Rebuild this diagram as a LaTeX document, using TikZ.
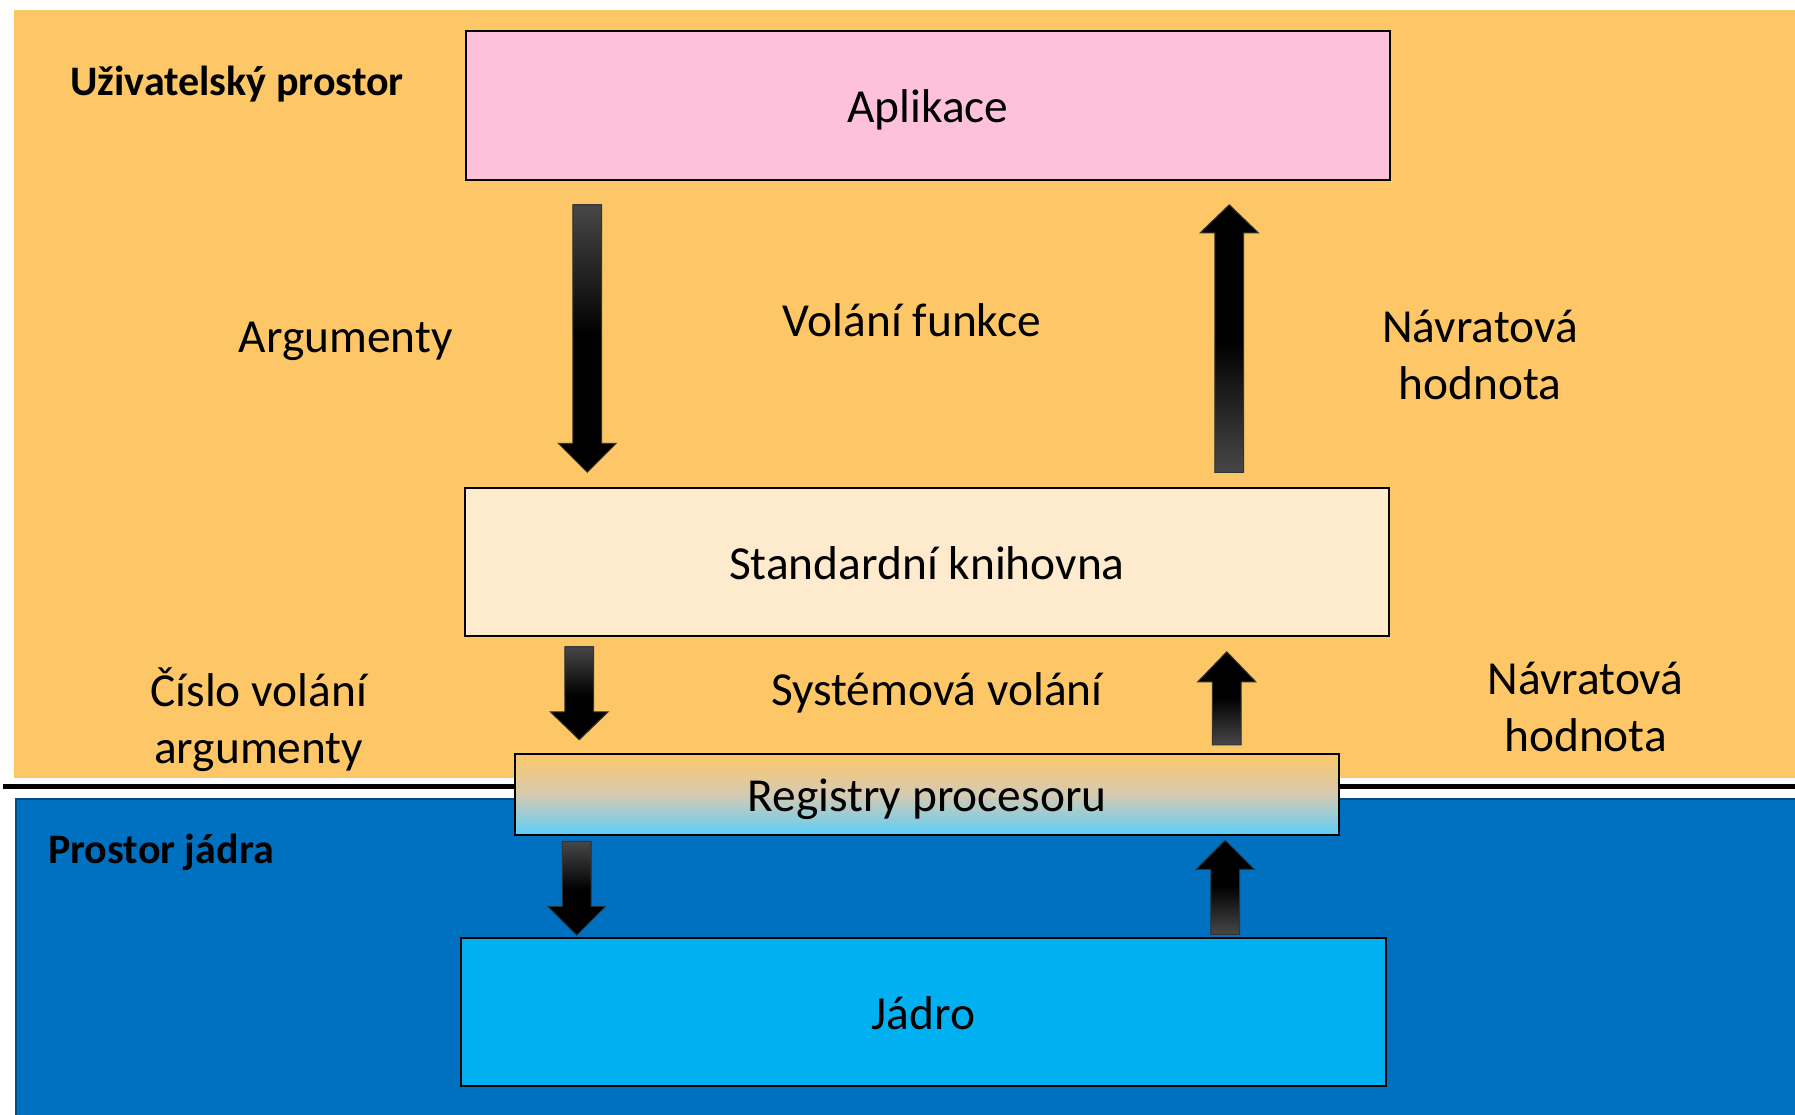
\documentclass[tikz,border=0pt]{standalone}
\usepackage{fontspec}
\setmainfont{Carlito}
\usetikzlibrary{calc}

\definecolor{userbg}{HTML}{FDC767}
\definecolor{kernbg}{HTML}{0070C0}
\definecolor{appfill}{HTML}{FDC1DB}
\definecolor{libfill}{HTML}{FEEBCD}
\definecolor{kerfill}{HTML}{00B0F0}
\definecolor{regtop}{HTML}{FDC767}
\definecolor{regmid}{HTML}{D6CAB2}
\definecolor{regbot}{HTML}{5BCEFA}
\definecolor{tailgray}{HTML}{474747}

\tikzset{
  lbl/.style={font=\fontsize{47.4}{57}\selectfont, inner sep=0pt, align=center},
  ttl/.style={font=\fontsize{42}{50}\selectfont\bfseries, inner sep=0pt},
  blk/.style={draw=black, line width=1.5pt, inner sep=0pt,
              text height=34pt, text depth=0pt,
              font=\fontsize{47.4}{57}\selectfont},
  arrowline/.style={draw=black!80, line width=1pt, line join=miter},
}

% Vertical block arrow: #1 tail, #2 tip, #3 head length,
% #4 shading of the tail part, #5 fraction of the shaft that is shaded
\newcommand\blockarrow[5]{%
  \path let \p1=(#1), \p2=(#2),
            \n1={ifthenelse(\y2>\y1,1,-1)},
            \n2={\y2-\y1-(\n1)*#3} in
    coordinate (ba-tl)  at ({\x1-14.3pt},{\y1})
    coordinate (ba-tr)  at ({\x1+14.3pt},{\y1})
    coordinate (ba-hl)  at ({\x1-14.3pt},{\y1+(\n2)*1pt})
    coordinate (ba-hr)  at ({\x1+14.3pt},{\y1+(\n2)*1pt})
    coordinate (ba-wl)  at ({\x1-29pt},{\y1+(\n2)*1pt})
    coordinate (ba-wr)  at ({\x1+29pt},{\y1+(\n2)*1pt})
    coordinate (ba-tip) at ({\x1},{\y2})
    coordinate (ba-gr)  at ({\x1+14.3pt},{\y1+(\n2)*#5*1pt});
  \fill[black] (ba-tl) -- (ba-hl) -- (ba-wl) -- (ba-tip) -- (ba-wr) -- (ba-hr) -- (ba-tr) -- cycle;
  \shade[#4] (ba-tl) rectangle (ba-gr);
  \draw[arrowline] (ba-tl) -- (ba-hl) -- (ba-wl) -- (ba-tip) -- (ba-wr) -- (ba-hr) -- (ba-tr) -- cycle;
}

\begin{document}
\begin{tikzpicture}[x=1pt,y=-1pt]
\useasboundingbox (0,0) rectangle (1795,1114);
\fill[white] (0,0) rectangle (1795,1114);

% user space and kernel space areas
\fill[userbg] (13.5,10) rectangle (1795,778);
\draw[black, line width=4.5pt] (3,786.5) -- (1795,786.5);
\draw[kernbg!70!black, line width=2pt, fill=kernbg] (16,799) rectangle (1800,1120);

\node[ttl] (user) at (237,84) {Uživatelský prostor};
\node[ttl] (kern) at (161,852) {Prostor jádra};

% layers
\node[blk, fill=appfill, minimum width=924pt, minimum height=149pt] (app) at (928,105.5) {Aplikace};
\node[blk, fill=libfill, minimum width=924pt, minimum height=148pt] (lib) at (927,562) {Standardní knihovna};
\node[blk, line width=2.5pt, top color=regtop, bottom color=regbot, middle color=regmid,
      minimum width=824pt, minimum height=81pt] (reg) at (927,794.5) {Registry procesoru};
\node[blk, fill=kerfill, minimum width=925pt, minimum height=148pt] (ker) at (923.5,1012) {Jádro};

% labels
\node[lbl] (args) at (345.7,341.5) {Argumenty};
\node[lbl] (call) at (912,320) {Volání funkce};
\node[lbl] (ret1) at (1480,355) {Návratová\\hodnota};
\node[lbl] (nums) at (258.7,720) {Číslo volání\\argumenty};
\node[lbl] (sys)  at (937,693) {Systémová volání};
\node[lbl] (ret2) at (1585.6,707) {Návratová\\hodnota};

% arrows between the layers
\blockarrow{$(app.south west)+(122,24)$}{$(lib.north west)+(123,-15)$}{29}{top color=tailgray,bottom color=black}{0.55}
\blockarrow{$(lib.north west)+(765,-15)$}{$(app.south west)+(764,24)$}{28}{top color=black,bottom color=tailgray}{0.55}
\blockarrow{$(lib.south west)+(115,10)$}{$(reg.north west)+(65,-13)$}{28}{top color=tailgray,bottom color=black}{0.75}
\blockarrow{$(reg.north west)+(713,-8)$}{$(lib.south west)+(763,15)$}{30}{top color=black,bottom color=tailgray}{0.75}
\blockarrow{$(reg.south west)+(63,5)$}{$(ker.north west)+(117,-2)$}{29}{top color=tailgray,bottom color=black}{0.75}
\blockarrow{$(ker.north west)+(765,-3)$}{$(reg.south west)+(711,4)$}{29}{top color=black,bottom color=tailgray}{0.75}
\end{tikzpicture}
\end{document}
